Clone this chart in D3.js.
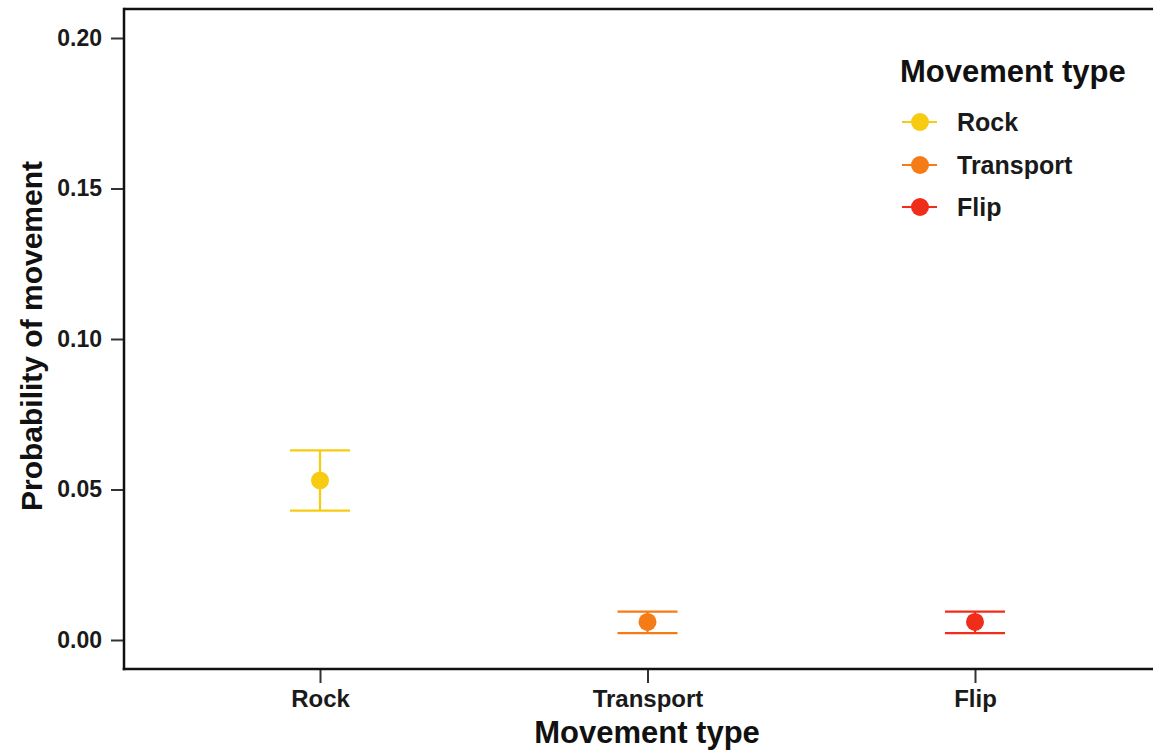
<!DOCTYPE html>
<html>
<head>
<meta charset="utf-8">
<script src="https://cdn.jsdelivr.net/npm/d3@7"></script>
<style>
  html, body { margin: 0; padding: 0; background: #fff; }
  svg { display: block; font-family: "Liberation Sans", Arial, Helvetica, sans-serif; }
</style>
</head>
<body>
<svg id="chart" width="1153" height="755"></svg>
<script>
// Estimated probability of each movement type with confidence bounds
const categories = ["Rock", "Transport", "Flip"];
const estimates = [0.053, 0.006, 0.006];
const lowerBounds = [0.043, 0.0023, 0.0023];
const upperBounds = [0.063, 0.0094, 0.0094];
const yTicks = [0.00, 0.05, 0.10, 0.15, 0.20];
const colors = ["#F6CB12", "#F57B16", "#EF2D1A"];

const svg = d3.select("#chart");

const panel = { left: 124, top: 9, bottom: 669, right: 1160 };
const fontFamily = '"Liberation Sans", Arial, sans-serif';

const x = d3.scalePoint().domain(categories).range([320, 975]);
const y = d3.scaleLinear().domain([0, 0.2]).range([640, 38]);
const color = d3.scaleOrdinal().domain(categories).range(colors);

const rows = categories.map((c, i) => ({
  cat: c, est: estimates[i], lo: lowerBounds[i], hi: upperBounds[i]
}));

// Panel frame: top edge (left and bottom come with the axes)
svg.append("line").attr("x1", panel.left).attr("x2", panel.right)
  .attr("y1", panel.top).attr("y2", panel.top)
  .attr("stroke", "#111").attr("stroke-width", 2.5);

// Y axis
const yAxis = svg.append("g").attr("transform", `translate(${panel.left},0)`)
  .call(d3.axisLeft(y).tickValues(yTicks).tickFormat(d3.format(".2f")).tickSize(13).tickPadding(9));
yAxis.select(".domain").remove();
yAxis.append("line").attr("x1", 0).attr("x2", 0)
  .attr("y1", panel.top - 1.25).attr("y2", panel.bottom + 1.25)
  .attr("stroke", "#111").attr("stroke-width", 2.5);
yAxis.selectAll(".tick line").attr("stroke", "#333").attr("stroke-width", 2);
yAxis.selectAll(".tick text").attr("fill", "#1a1a1a")
  .style("font-size", "23px").style("font-weight", "bold")
  .style("font-family", fontFamily);

// X axis
const xAxis = svg.append("g").attr("transform", `translate(0,${panel.bottom})`)
  .call(d3.axisBottom(x).tickSize(14).tickPadding(7));
xAxis.select(".domain").remove();
xAxis.append("line").attr("x1", panel.left - 1.25).attr("x2", panel.right)
  .attr("y1", 0).attr("y2", 0)
  .attr("stroke", "#111").attr("stroke-width", 2.5);
xAxis.selectAll(".tick line").attr("stroke", "#333").attr("stroke-width", 2);
xAxis.selectAll(".tick text").attr("fill", "#1a1a1a")
  .style("font-size", "24px").style("font-weight", "bold")
  .style("font-family", fontFamily);

// Error bars with point estimates
const capHalf = 30;
const eb = svg.append("g").selectAll("g.eb").data(rows).join("g").attr("class", "eb");
eb.append("line")
  .attr("x1", d => x(d.cat)).attr("x2", d => x(d.cat))
  .attr("y1", d => y(d.hi)).attr("y2", d => y(d.lo))
  .attr("stroke", d => color(d.cat)).attr("stroke-width", 2.2);
eb.append("line")
  .attr("x1", d => x(d.cat) - capHalf).attr("x2", d => x(d.cat) + capHalf)
  .attr("y1", d => y(d.hi)).attr("y2", d => y(d.hi))
  .attr("stroke", d => color(d.cat)).attr("stroke-width", 2.2);
eb.append("line")
  .attr("x1", d => x(d.cat) - capHalf).attr("x2", d => x(d.cat) + capHalf)
  .attr("y1", d => y(d.lo)).attr("y2", d => y(d.lo))
  .attr("stroke", d => color(d.cat)).attr("stroke-width", 2.2);
eb.append("circle")
  .attr("cx", d => x(d.cat)).attr("cy", d => y(d.est)).attr("r", 9)
  .attr("fill", d => color(d.cat));

// Axis titles
svg.append("text").attr("x", 647).attr("y", 743)
  .attr("text-anchor", "middle")
  .style("font-size", "31px").style("font-weight", "bold").attr("fill", "#111")
  .text("Movement type");
svg.append("text")
  .attr("transform", "translate(42,336) rotate(-90)")
  .attr("text-anchor", "middle")
  .style("font-size", "30px").style("font-weight", "bold").attr("fill", "#111")
  .text("Probability of movement");

// Legend
const legend = svg.append("g").attr("transform", "translate(900,0)");
legend.append("text").attr("x", 0).attr("y", 82)
  .style("font-size", "31px").style("font-weight", "bold").attr("fill", "#111")
  .text("Movement type");
const itemY = [122, 165, 207];
const items = legend.selectAll("g.item").data(categories).join("g")
  .attr("class", "item")
  .attr("transform", (d, i) => `translate(0,${itemY[i]})`);
items.append("line").attr("x1", 2).attr("x2", 37).attr("y1", 0).attr("y2", 0)
  .attr("stroke", d => color(d)).attr("stroke-width", 2.2);
items.append("circle").attr("cx", 20).attr("cy", 0).attr("r", 9)
  .attr("fill", d => color(d));
items.append("text").attr("x", 57).attr("y", 0).attr("dy", "0.36em")
  .style("font-size", "25px").style("font-weight", "bold").attr("fill", "#1a1a1a")
  .text(d => d);
</script>
</body>
</html>
